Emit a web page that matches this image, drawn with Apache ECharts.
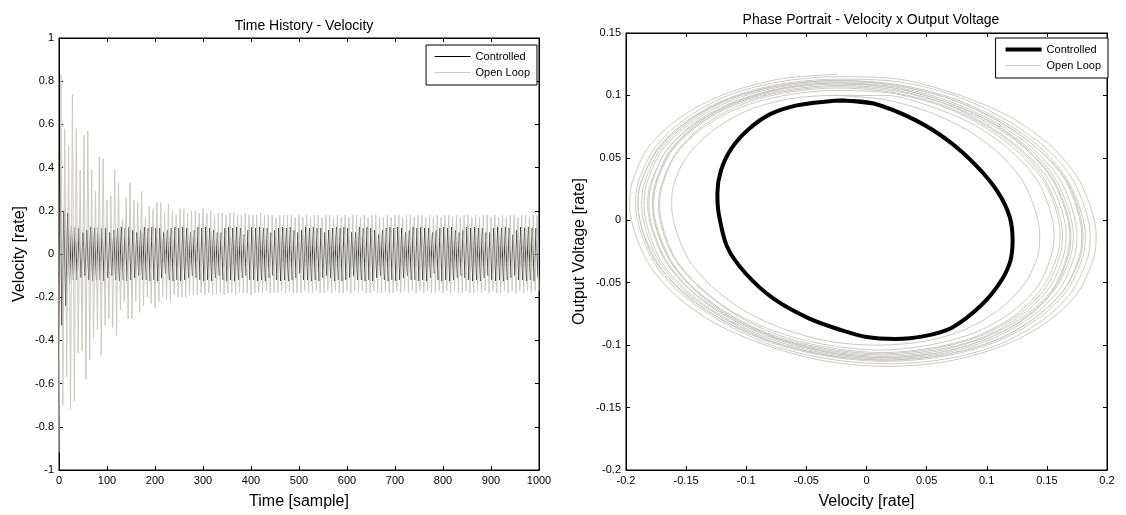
<!DOCTYPE html>
<html>
<head>
<meta charset="utf-8">
<script src="https://cdn.jsdelivr.net/npm/echarts@6/dist/echarts.min.js"></script>
<style>
  html, body { margin: 0; padding: 0; background: #fff; }
  #chart { width: 1126px; height: 515px; }
</style>
</head>
<body>
<div id="chart"></div>
<script>
// time history: one value every SAMPLE_STEP samples (alternating peaks)
const SAMPLE_STEP = 4
const timeTicks = [0, 1000, 100]
const velocityTicks = [-1, 1, 0.2]

const openLoopTime = [
  -0.92, 0.83, -0.70, 0.58, -0.57, 0.50, -0.72, 0.74, -0.68, 0.58,
  -0.46, 0.39, -0.45, 0.55, -0.58, 0.57, -0.49, 0.39, -0.39, 0.29,
  -0.35, 0.45, -0.47, 0.44, -0.33, 0.25, -0.30, 0.27, -0.34, 0.39,
  -0.38, 0.33, -0.26, 0.16, -0.22, 0.26, -0.30, 0.33, -0.30, 0.25,
  -0.22, 0.24, -0.27, 0.29, -0.24, 0.17, -0.20, 0.22, -0.23, 0.21,
  -0.25, 0.24, -0.22, 0.24, -0.20, 0.19, -0.21, 0.23, -0.22, 0.20,
  -0.19, 0.18, -0.20, 0.21, -0.20, 0.21, -0.20, 0.19, -0.19, 0.20,
  -0.19, 0.20, -0.19, 0.19, -0.18, 0.21,
  -0.19, 0.19, -0.18, 0.20, -0.19, 0.18, -0.19, 0.19, -0.18, 0.19,
  -0.19, 0.18, -0.18, 0.19, -0.18, 0.19, -0.19, 0.18, -0.18, 0.18,
  -0.18, 0.19, -0.18, 0.18, -0.19, 0.18, -0.18, 0.18, -0.18, 0.19,
  -0.18, 0.18, -0.17, 0.18, -0.18, 0.18, -0.18, 0.17, -0.18, 0.18,
  -0.17, 0.18, -0.18, 0.18, -0.17, 0.18, -0.18, 0.17, -0.18, 0.18,
  -0.18, 0.17, -0.17, 0.18, -0.18, 0.17, -0.18, 0.18, -0.17, 0.18,
  -0.18, 0.17, -0.18, 0.18, -0.17, 0.18, -0.18, 0.17, -0.17, 0.18,
  -0.18, 0.17, -0.18, 0.18, -0.17, 0.17, -0.18, 0.18, -0.17, 0.18,
  -0.18, 0.17, -0.17, 0.18, -0.18, 0.17, -0.18, 0.18, -0.17, 0.18,
  -0.18, 0.17, -0.18, 0.17, -0.17, 0.18, -0.18, 0.17, -0.18, 0.18,
  -0.17, 0.18, -0.18, 0.17, -0.17, 0.18, -0.18, 0.18, -0.17, 0.17,
  -0.18, 0.18, -0.17, 0.18, -0.18, 0.17, -0.17, 0.18, -0.18, 0.17,
  -0.18, 0.18, -0.17, 0.17, -0.18, 0.18, -0.17, 0.18, -0.18, 0.17,
  -0.17, 0.18, -0.18, 0.17, -0.18, 0.18, -0.17, 0.18, -0.18, 0.17,
  -0.18, 0.18, -0.17, 0.17, -0.18, 0.18, -0.17, 0.18, -0.18, 0.17,
  -0.17, 0.18, -0.18, 0.17, -0.18, 0.18, -0.17, 0.17, -0.18, 0.18,
  -0.17, 0.18, -0.18, 0.17, -0.17, 0.18, -0.18, 0.18, -0.17, 0.17,
  -0.18, 0.18, -0.17, 0.18, -0.17
]

// controlled, sampled half a step later than open loop
const controlledTime = [
  0.52, -0.33, 0.20, -0.24, 0.19, -0.14, 0.13, -0.12,
  0.125, -0.12, 0.12, -0.11, 0.10, -0.10, 0.11, -0.12, 0.125, -0.125, 0.12, -0.12, 0.125, -0.12,
  0.12, -0.125, 0.12, -0.11, 0.10, -0.10, 0.11, -0.12, 0.12, -0.125, 0.125, -0.12, 0.12, -0.125,
  0.125, -0.12, 0.11, -0.11, 0.10, -0.10, 0.11, -0.12, 0.125, -0.12, 0.12, -0.125, 0.125, -0.12,
  0.12, -0.125, 0.12, -0.11, 0.10, -0.09, 0.11, -0.12, 0.12, -0.125, 0.125, -0.12, 0.12, -0.125,
  0.125, -0.12, 0.12, -0.11, 0.10, -0.10, 0.11, -0.11, 0.125, -0.12, 0.12, -0.125, 0.125, -0.12,
  0.12, -0.125, 0.11, -0.11, 0.10, -0.10, 0.10, -0.12, 0.12, -0.125, 0.125, -0.12, 0.12, -0.125,
  0.125, -0.12, 0.12, -0.11, 0.09, -0.10, 0.11, -0.12, 0.125, -0.12, 0.12, -0.125, 0.125, -0.12,
  0.12, -0.125, 0.12, -0.11, 0.10, -0.10, 0.11, -0.12, 0.12, -0.125, 0.125, -0.12, 0.12, -0.125,
  0.125, -0.12, 0.11, -0.11, 0.10, -0.09, 0.11, -0.12, 0.125, -0.12, 0.12, -0.125, 0.125, -0.12,
  0.12, -0.125, 0.12, -0.11, 0.10, -0.10, 0.11, -0.11, 0.12, -0.125, 0.125, -0.12, 0.12, -0.125,
  0.125, -0.12, 0.12, -0.11, 0.10, -0.10, 0.10, -0.12, 0.125, -0.12, 0.12, -0.125, 0.125, -0.12,
  0.12, -0.125, 0.11, -0.11, 0.09, -0.10, 0.11, -0.12, 0.12, -0.125, 0.125, -0.12, 0.12, -0.125,
  0.125, -0.12, 0.12, -0.11, 0.10, -0.10, 0.11, -0.12, 0.125, -0.12, 0.12, -0.125, 0.125, -0.12,
  0.12, -0.125, 0.12, -0.11, 0.10, -0.09, 0.11, -0.12, 0.12, -0.125, 0.125, -0.12, 0.12, -0.125,
  0.125, -0.12, 0.11, -0.11, 0.10, -0.10, 0.11, -0.11, 0.125, -0.12, 0.12, -0.125, 0.125, -0.12,
  0.12, -0.125, 0.12, -0.11, 0.10, -0.10, 0.10, -0.12, 0.12, -0.125, 0.125, -0.12, 0.12, -0.125,
  0.125, -0.12, 0.12, -0.11, 0.09, -0.10, 0.11, -0.12, 0.125, -0.12, 0.12, -0.125, 0.125, -0.12,
  0.12, -0.125, 0.12, -0.11
]

// phase portrait [velocity, output voltage]
const velocityTicks2 = [-0.2, 0.2, 0.05]
const voltageTicks = [-0.2, 0.15, 0.05]

const controlledPhase = [
  [-0.021, 0.096], [0.006, 0.0935], [0.041, 0.080], [0.069, 0.063], [0.092, 0.043],
  [0.109, 0.023], [0.119, 0.003], [0.1215, -0.016], [0.1195, -0.033], [0.111, -0.050],
  [0.095, -0.0685], [0.071, -0.086], [0.047, -0.093], [0.024, -0.095], [0.0, -0.0935],
  [-0.021, -0.088], [-0.047, -0.079], [-0.077, -0.063], [-0.101, -0.042], [-0.116, -0.021],
  [-0.123, 0.006], [-0.124, 0.022], [-0.121, 0.040], [-0.112, 0.058], [-0.098, 0.073],
  [-0.080, 0.085], [-0.058, 0.092], [-0.035, 0.095], [-0.021, 0.096], [0.006, 0.0935]
]

// open loop spiral round the limit cycle, one row per revolution (outer to inner)
const openLoopPhase = [
  [[0.191, -0.012], [0.178, 0.030], [0.154, 0.059], [0.119, 0.083], [0.075, 0.101], [0.027, 0.113],
   [-0.024, 0.117], [-0.073, 0.113], [-0.118, 0.101], [-0.154, 0.083], [-0.181, 0.059], [-0.195, 0.030],
   [-0.197, 0.012], [-0.184, -0.030], [-0.160, -0.059], [-0.125, -0.083], [-0.081, -0.101], [-0.033, -0.113],
   [0.018, -0.117], [0.067, -0.113], [0.112, -0.101], [0.148, -0.083], [0.175, -0.059], [0.189, -0.030]],
  [[0.186, -0.012], [0.173, 0.030], [0.149, 0.058], [0.115, 0.081], [0.073, 0.100], [0.026, 0.111],
   [-0.024, 0.115], [-0.072, 0.111], [-0.115, 0.100], [-0.151, 0.081], [-0.176, 0.058], [-0.190, 0.030],
   [-0.192, 0.012], [-0.179, -0.030], [-0.155, -0.058], [-0.121, -0.081], [-0.079, -0.100], [-0.032, -0.111],
   [0.018, -0.115], [0.066, -0.111], [0.109, -0.100], [0.145, -0.081], [0.170, -0.058], [0.184, -0.030]],
  [[0.182, -0.012], [0.169, 0.029], [0.146, 0.057], [0.112, 0.080], [0.071, 0.098], [0.024, 0.109],
   [-0.024, 0.113], [-0.072, 0.109], [-0.114, 0.098], [-0.149, 0.080], [-0.174, 0.057], [-0.188, 0.029],
   [-0.190, 0.012], [-0.177, -0.029], [-0.154, -0.057], [-0.120, -0.080], [-0.079, -0.098], [-0.032, -0.109],
   [0.016, -0.113], [0.064, -0.109], [0.106, -0.098], [0.141, -0.080], [0.166, -0.057], [0.180, -0.029]],
  [[0.180, -0.012], [0.168, 0.029], [0.144, 0.056], [0.111, 0.079], [0.070, 0.097], [0.023, 0.108],
   [-0.025, 0.112], [-0.072, 0.108], [-0.115, 0.097], [-0.149, 0.079], [-0.174, 0.056], [-0.188, 0.029],
   [-0.190, 0.012], [-0.178, -0.029], [-0.154, -0.056], [-0.121, -0.079], [-0.080, -0.097], [-0.033, -0.108],
   [0.015, -0.112], [0.062, -0.108], [0.105, -0.097], [0.139, -0.079], [0.164, -0.056], [0.178, -0.029]],
  [[0.179, -0.012], [0.167, 0.029], [0.144, 0.056], [0.110, 0.079], [0.070, 0.097], [0.024, 0.108],
   [-0.024, 0.112], [-0.071, 0.108], [-0.113, 0.097], [-0.147, 0.079], [-0.172, 0.056], [-0.185, 0.029],
   [-0.187, 0.012], [-0.175, -0.029], [-0.152, -0.056], [-0.118, -0.079], [-0.078, -0.097], [-0.032, -0.108],
   [0.016, -0.112], [0.063, -0.108], [0.105, -0.097], [0.139, -0.079], [0.164, -0.056], [0.177, -0.029]],
  [[0.175, -0.012], [0.163, 0.029], [0.140, 0.056], [0.108, 0.078], [0.067, 0.096], [0.022, 0.107],
   [-0.025, 0.111], [-0.071, 0.107], [-0.112, 0.096], [-0.146, 0.078], [-0.170, 0.056], [-0.183, 0.029],
   [-0.185, 0.012], [-0.173, -0.029], [-0.150, -0.056], [-0.118, -0.078], [-0.077, -0.096], [-0.032, -0.107],
   [0.015, -0.111], [0.061, -0.107], [0.102, -0.096], [0.136, -0.078], [0.160, -0.056], [0.173, -0.029]],
  [[0.172, -0.012], [0.160, 0.028], [0.138, 0.055], [0.105, 0.078], [0.066, 0.095], [0.022, 0.106],
   [-0.025, 0.110], [-0.070, 0.106], [-0.110, 0.095], [-0.143, 0.078], [-0.167, 0.055], [-0.180, 0.028],
   [-0.182, 0.012], [-0.170, -0.028], [-0.148, -0.055], [-0.115, -0.078], [-0.076, -0.095], [-0.032, -0.106],
   [0.015, -0.110], [0.060, -0.106], [0.100, -0.095], [0.133, -0.078], [0.157, -0.055], [0.170, -0.028]],
  [[0.170, -0.012], [0.158, 0.028], [0.136, 0.055], [0.104, 0.078], [0.065, 0.095], [0.022, 0.106],
   [-0.024, 0.110], [-0.068, 0.106], [-0.108, 0.095], [-0.140, 0.078], [-0.164, 0.055], [-0.176, 0.028],
   [-0.178, 0.012], [-0.166, -0.028], [-0.144, -0.055], [-0.112, -0.078], [-0.073, -0.095], [-0.030, -0.106],
   [0.016, -0.110], [0.060, -0.106], [0.100, -0.095], [0.132, -0.078], [0.156, -0.055], [0.168, -0.028]],
  [[0.169, -0.011], [0.157, 0.028], [0.135, 0.055], [0.103, 0.077], [0.064, 0.094], [0.020, 0.105],
   [-0.026, 0.109], [-0.070, 0.105], [-0.110, 0.094], [-0.143, 0.077], [-0.167, 0.055], [-0.179, 0.028],
   [-0.181, 0.011], [-0.169, -0.028], [-0.147, -0.055], [-0.115, -0.077], [-0.076, -0.094], [-0.032, -0.105],
   [0.014, -0.109], [0.058, -0.105], [0.098, -0.094], [0.131, -0.077], [0.155, -0.055], [0.167, -0.028]],
  [[0.166, -0.011], [0.154, 0.028], [0.132, 0.054], [0.101, 0.076], [0.063, 0.094], [0.020, 0.104],
   [-0.025, 0.108], [-0.069, 0.104], [-0.108, 0.094], [-0.141, 0.076], [-0.164, 0.054], [-0.176, 0.028],
   [-0.178, 0.011], [-0.166, -0.028], [-0.144, -0.054], [-0.113, -0.076], [-0.075, -0.094], [-0.032, -0.104],
   [0.013, -0.108], [0.057, -0.104], [0.096, -0.094], [0.129, -0.076], [0.152, -0.054], [0.164, -0.028]],
  [[0.163, -0.011], [0.151, 0.028], [0.130, 0.054], [0.099, 0.076], [0.061, 0.093], [0.018, 0.103],
   [-0.026, 0.107], [-0.069, 0.103], [-0.108, 0.093], [-0.140, 0.076], [-0.163, 0.054], [-0.175, 0.028],
   [-0.177, 0.011], [-0.165, -0.028], [-0.144, -0.054], [-0.113, -0.076], [-0.075, -0.093], [-0.032, -0.103],
   [0.012, -0.107], [0.055, -0.103], [0.094, -0.093], [0.126, -0.076], [0.149, -0.054], [0.161, -0.028]],
  [[0.161, -0.011], [0.150, 0.027], [0.128, 0.053], [0.098, 0.075], [0.061, 0.092], [0.019, 0.102],
   [-0.025, 0.106], [-0.068, 0.102], [-0.106, 0.092], [-0.137, 0.075], [-0.159, 0.053], [-0.171, 0.027],
   [-0.173, 0.011], [-0.162, -0.027], [-0.140, -0.053], [-0.110, -0.075], [-0.073, -0.092], [-0.031, -0.102],
   [0.013, -0.106], [0.056, -0.102], [0.094, -0.092], [0.125, -0.075], [0.147, -0.053], [0.159, -0.027]],
  [[0.156, -0.011], [0.145, 0.027], [0.124, 0.052], [0.094, 0.074], [0.057, 0.090], [0.016, 0.100],
   [-0.027, 0.104], [-0.068, 0.100], [-0.106, 0.090], [-0.136, 0.074], [-0.159, 0.052], [-0.170, 0.027],
   [-0.172, 0.011], [-0.161, -0.027], [-0.140, -0.052], [-0.110, -0.074], [-0.073, -0.090], [-0.032, -0.100],
   [0.011, -0.104], [0.052, -0.100], [0.090, -0.090], [0.120, -0.074], [0.143, -0.052], [0.154, -0.027]],
  [[0.144, -0.011], [0.133, 0.026], [0.114, 0.050], [0.086, 0.071], [0.051, 0.087], [0.013, 0.097],
   [-0.027, 0.100], [-0.066, 0.097], [-0.101, 0.087], [-0.129, 0.071], [-0.150, 0.050], [-0.161, 0.026],
   [-0.162, 0.011], [-0.151, -0.026], [-0.132, -0.050], [-0.104, -0.071], [-0.069, -0.087], [-0.031, -0.097],
   [0.009, -0.100], [0.048, -0.097], [0.083, -0.087], [0.111, -0.071], [0.132, -0.050], [0.143, -0.026]]
]

const FONT = 'Liberation Sans, Arial, sans-serif'
const GRAY = '#cdc9c2'

// one continuous trajectory; each revolution is walked from its top point,
// so the step from one revolution to the next falls in the dense top band
const TOP = 6
const openLoopPhaseData = []
openLoopPhase.forEach(function (loop) {
  loop.slice(TOP).concat(loop.slice(0, TOP)).forEach(function (p) { openLoopPhaseData.push(p) })
})
openLoopPhaseData.push(openLoopPhase[openLoopPhase.length - 1][TOP])

function makeAxis(type, ticks, gridIndex, position, showLabel, name) {
  return {
    type: 'value',
    gridIndex: gridIndex,
    position: position,
    min: ticks[0],
    max: ticks[1],
    interval: ticks[2],
    name: name,
    nameLocation: 'middle',
    nameGap: type === 'x' ? 24 : 31,
    nameTextStyle: { fontFamily: FONT, fontSize: 16, color: '#000' },
    axisLine: { show: true, onZero: false, lineStyle: { color: '#000', width: 1 } },
    axisTick: { show: true, inside: true, length: 4, lineStyle: { color: '#000' } },
    axisLabel: {
      show: showLabel, fontFamily: FONT, fontSize: 11, color: '#000', margin: 5,
      formatter: function (v) { return String(v) }
    },
    splitLine: { show: false }
  }
}

const legendBase = {
  orient: 'vertical',
  backgroundColor: '#fff',
  borderColor: '#000',
  borderWidth: 1,
  borderRadius: 0,
  padding: [6, 7, 7, 8],
  itemGap: 5,
  itemWidth: 36,
  itemHeight: 12,
  selectedMode: false,
  itemStyle: { opacity: 0 },
  lineStyle: { width: 1 },
  textStyle: { fontFamily: FONT, fontSize: 11, color: '#000' }
}

const chart = echarts.init(document.getElementById('chart'))
chart.setOption({
  animation: false,
  title: [
    { text: 'Time History - Velocity', left: 299, top: 14, textAlign: 'center',
      textStyle: { fontFamily: FONT, fontSize: 14, fontWeight: 'normal', color: '#000' } },
    { text: 'Phase Portrait - Velocity x Output Voltage', left: 866, top: 8, textAlign: 'center',
      textStyle: { fontFamily: FONT, fontSize: 14, fontWeight: 'normal', color: '#000' } }
  ],
  legend: [
    Object.assign({}, legendBase, { right: 589, top: 45, data: ['Controlled', 'Open Loop'] }),
    Object.assign({}, legendBase, { right: 18, top: 38,
      data: [{ name: 'Controlled', lineStyle: { width: 4 } }, { name: 'Open Loop', lineStyle: { width: 1 } }] })
  ],
  grid: [
    { left: 59, top: 38, width: 480, height: 434, show: true, borderColor: '#000', borderWidth: 1 },
    { left: 626, top: 33, width: 481, height: 439, show: true, borderColor: '#000', borderWidth: 1 }
  ],
  xAxis: [
    makeAxis('x', timeTicks, 0, 'bottom', true, 'Time [sample]'),
    makeAxis('x', timeTicks, 0, 'top', false, ''),
    makeAxis('x', velocityTicks2, 1, 'bottom', true, 'Velocity [rate]'),
    makeAxis('x', velocityTicks2, 1, 'top', false, '')
  ],
  yAxis: [
    makeAxis('y', velocityTicks, 0, 'left', true, 'Velocity [rate]'),
    makeAxis('y', velocityTicks, 0, 'right', false, ''),
    Object.assign(makeAxis('y', voltageTicks, 1, 'left', true, 'Output Voltage [rate]'), { nameGap: 38 }),
    makeAxis('y', voltageTicks, 1, 'right', false, '')
  ],
  series: [
    {
      name: 'Controlled', type: 'line', xAxisIndex: 0, yAxisIndex: 0,
      symbol: 'none',
      lineStyle: { color: '#000', width: 0.8 }, itemStyle: { color: '#000' },
      data: controlledTime.map((v, i) => [i * SAMPLE_STEP + SAMPLE_STEP / 2, v])
    },
    {
      name: 'Open Loop', type: 'line', xAxisIndex: 0, yAxisIndex: 0,
      symbol: 'none',
      lineStyle: { color: GRAY, width: 1 }, itemStyle: { color: GRAY },
      data: openLoopTime.map((v, i) => [i * SAMPLE_STEP, v])
    },
    {
      name: 'Controlled', type: 'line', xAxisIndex: 2, yAxisIndex: 2,
      symbol: 'none', smooth: 0.3,
      lineStyle: { color: '#000', width: 4 }, itemStyle: { color: '#000' },
      data: controlledPhase
    },
    {
      name: 'Open Loop', type: 'line', xAxisIndex: 2, yAxisIndex: 2,
      symbol: 'none', smooth: 0.3,
      lineStyle: { color: GRAY, width: 1 }, itemStyle: { color: GRAY },
      data: openLoopPhaseData
    }
  ]
})
</script>
</body>
</html>
